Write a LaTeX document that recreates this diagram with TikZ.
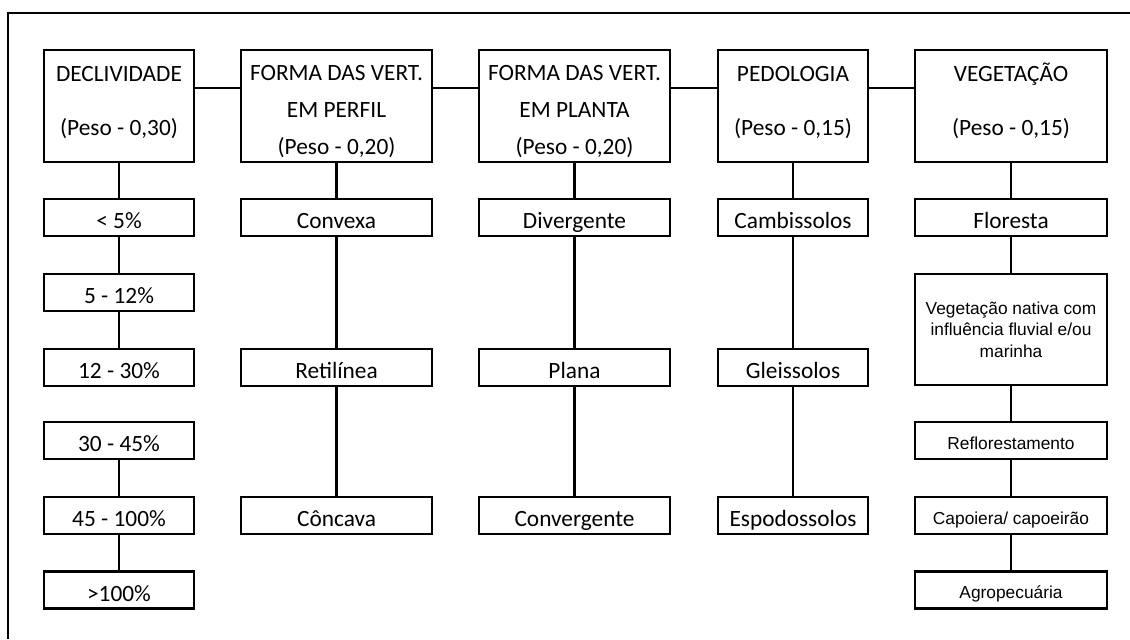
\documentclass[tikz,border=0pt]{standalone}
\usepackage{fontspec}
\setmainfont{Carlito}
\newfontfamily\arialfont{Liberation Sans}
\usepackage{tikz}

\tikzset{
	headbox/.style={draw, line width=1.8pt, inner sep=0pt, minimum height=84pt},
	headtext/.style={inner sep=0pt, align=center, font=\fontsize{17.5}{21}\selectfont},
	item/.style={draw, line width=1.8pt, inner sep=0pt, minimum height=27.75pt,
		text height=17pt, text depth=0.2pt, font=\fontsize{17.5}{21}\selectfont},
	vitem/.style={item, text height=13pt, font=\arialfont\fontsize{13}{16}\selectfont},
	link/.style={line width=1.8pt}
}

\begin{document}
\begin{tikzpicture}[x=0.75pt, y=-0.75pt]
			\useasboundingbox (0,0) rectangle (1130,639);
			\draw[line width=2pt] (1130,13) -- (8,13) -- (8,639);
			
			% header boxes
			\node[headbox, minimum width=112.5pt] (decl) at (119, 106) {};
			\node[headbox, minimum width=143.25pt] (perfil) at (336.5, 106) {};
			\node[headbox, minimum width=143.25pt] (planta) at (574.5, 106) {};
			\node[headbox, minimum width=112.5pt] (pedo) at (793, 106) {};
			\node[headbox, minimum width=144pt] (veg) at (1011, 106) {};
			
			\node[headtext] (decl-t) at (119, 102.4) {\strut DECLIVIDADE\\[19.5pt]\strut(Peso - 0,30)};
			\node[headtext] (perfil-t) at (336.5, 111.9) {\strut FORMA DAS VERT.\\[6.4pt]\strut EM PERFIL\\[6.4pt]\strut(Peso - 0,20)};
			\node[headtext] (planta-t) at (574.5, 111.9) {\strut FORMA DAS VERT.\\[6.4pt]\strut EM PLANTA\\[6.4pt]\strut(Peso - 0,20)};
			\node[headtext] (pedo-t) at (793, 102.4) {\strut PEDOLOGIA\\[19.5pt]\strut(Peso - 0,15)};
			\node[headtext] (veg-t) at (1011, 102.4) {\strut VEGETAÇÃO\\[19.5pt]\strut(Peso - 0,15)};
			
			% classes
			\node[item, minimum width=112.5pt] (d1) at (119, 217.5) {< 5\%};
			\node[item, minimum width=112.5pt] (d2) at (119, 292.5) {5 - 12\%};
			\node[item, minimum width=112.5pt] (d3) at (119, 367.5) {12 - 30\%};
			\node[item, minimum width=112.5pt] (d4) at (119, 440.5) {30 - 45\%};
			\node[item, minimum width=112.5pt] (d5) at (119, 515.5) {45 - 100\%};
			\node[item, minimum width=112.5pt] (d6) at (119, 590) {>100\%};
			
			\node[item, minimum width=143.25pt] (convexa) at (336.5, 217.5) {Convexa};
			\node[item, minimum width=143.25pt] (retilinea) at (336.5, 367.5) {Retilínea};
			\node[item, minimum width=143.25pt] (concava) at (336.5, 515.5) {Côncava};
			
			\node[item, minimum width=143.25pt] (diverg) at (574.5, 217.5) {Divergente};
			\node[item, minimum width=143.25pt] (plana) at (574.5, 367.5) {Plana};
			\node[item, minimum width=143.25pt] (converg) at (574.5, 515.5) {Convergente};
			
			\node[item, minimum width=112.5pt] (cambi) at (793, 217.5) {Cambissolos};
			\node[item, minimum width=112.5pt] (gleis) at (793, 367.5) {Gleissolos};
			\node[item, minimum width=112.5pt] (espod) at (793, 515.5) {Espodossolos};
			
			\node[item, minimum width=144pt] (flor) at (1011, 217.5) {Floresta};
			\node[draw, line width=1.8pt, inner sep=0pt, align=center, minimum width=144pt, minimum height=83.25pt,
				font=\arialfont\fontsize{13}{16}\selectfont] (nativa) at (1011, 329.5) {Vegetação nativa com\\influência fluvial e/ou\\marinha};
			\node[vitem, minimum width=144pt] (reflor) at (1011, 440.5) {Reflorestamento};
			\node[vitem, minimum width=144pt] (capo) at (1011, 515.5) {Capoiera/ capoeirão};
			\node[vitem, minimum width=144pt] (agro) at (1011, 590) {Agropecuária};
			
			% links
			\draw[link] ([yshift=13.5pt]decl.east) -- ([yshift=13.5pt]perfil.west);
			\draw[link] ([yshift=13.5pt]perfil.east) -- ([yshift=13.5pt]planta.west);
			\draw[link] ([yshift=13.5pt]planta.east) -- ([yshift=13.5pt]pedo.west);
			\draw[link] ([yshift=13.5pt]pedo.east) -- ([yshift=13.5pt]veg.west);
			
			\draw[link] (decl) -- (d1);
			\draw[link] (d1) -- (d2);
			\draw[link] (d2) -- (d3);
			\draw[link] (d4) -- (d5);
			\draw[link] (d5) -- (d6);
			
			\draw[link] (perfil) -- (convexa);
			\draw[link] (convexa) -- (retilinea);
			\draw[link] (retilinea) -- (concava);
			
			\draw[link] (planta) -- (diverg);
			\draw[link] (diverg) -- (plana);
			\draw[link] (plana) -- (converg);
			
			\draw[link] (pedo) -- (cambi);
			\draw[link] (cambi) -- (gleis);
			\draw[link] (gleis) -- (espod);
			
			\draw[link] (veg) -- (flor);
			\draw[link] (flor) -- (nativa);
			\draw[link] (nativa) -- (reflor);
			\draw[link] (reflor) -- (capo);
			\draw[link] (capo) -- (agro);
		\end{tikzpicture}
\end{document}
